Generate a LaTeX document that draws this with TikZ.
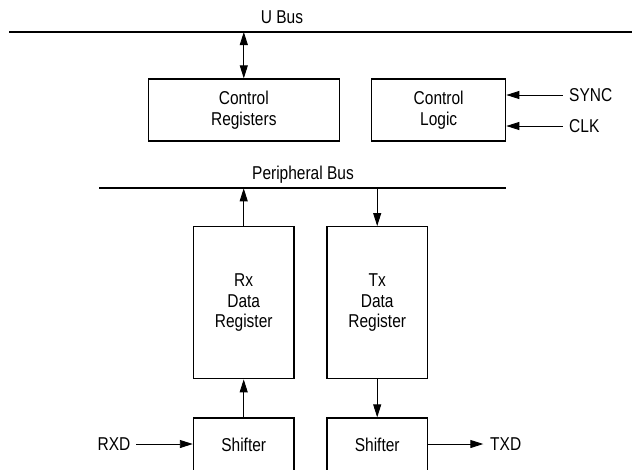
\documentclass[tikz,border=0pt]{standalone}
\usepackage{fontspec}
\usepackage{graphicx}
\setmainfont{Liberation Sans}
\usetikzlibrary{arrows.meta}
\newcommand{\vs}[1]{\scalebox{1}[1.2]{#1}}
\begin{document}
\begin{tikzpicture}[x=1pt,y=-1pt,
  box/.style={draw, line width=1.3pt, inner sep=0pt, align=center, font=\fontsize{15.5}{20.5}\selectfont},
  lbl/.style={inner sep=0pt, font=\fontsize{15.5}{19}\selectfont},
  bus/.style={line width=2pt},
  arr/.style={line width=0.9pt, -{Triangle[length=13pt,width=8pt]}},
  darr/.style={line width=0.9pt, {Triangle[length=13pt,width=8pt]}-{Triangle[length=13pt,width=8pt]}}]
\useasboundingbox (0,0) rectangle (632,469);
\clip (0,0) rectangle (632,469);
% boxes
\node[box, minimum width=191pt, minimum height=62pt] (creg) at (243.8,110) {\vs{Control}\\\vs{Registers}};
\node[box, minimum width=134pt, minimum height=62pt] (clog) at (438.7,110) {\vs{Control}\\\vs{Logic}};
\node[box, minimum width=100.5pt, minimum height=152pt] (rxr) at (243.7,302.7) {\vs{Rx}\\\vs{Data}\\\vs{Register}};
\node[box, minimum width=100.5pt, minimum height=152pt] (txr) at (377.2,302.7) {\vs{Tx}\\\vs{Data}\\\vs{Register}};
\node[box, minimum width=100.5pt, minimum height=54pt] (rxs) at (243.7,445) {\vs{Shifter}};
\node[box, minimum width=100.5pt, minimum height=54pt] (txs) at (377.2,445) {\vs{Shifter}};
% buses
\coordinate (ubL) at (9,32);
\coordinate (ubR) at (640,32);
\draw[bus] (ubL) -- (ubR);
\node[lbl, anchor=base] (ubt) at (282,23) {\vs{U Bus}};
\coordinate (pbL) at (99.3,188.3);
\coordinate (pbR) at (506,188.3);
\draw[bus] (pbL) -- (pbR);
\node[lbl, anchor=base] (pbt) at (303,179.3) {\vs{Peripheral Bus}};
% connectors
\draw[darr] (creg.north |- ubL) -- (creg.north);
\draw[arr] (rxr.north) -- (rxr.north |- pbL);
\draw[arr] (txr.north |- pbL) -- (txr.north);
\draw[arr] (rxs) -- (rxr);
\draw[arr] (txr) -- (txs);
% sync / clk
\node[lbl, anchor=base west] (sync) at (569,101.7) {\vs{SYNC}};
\coordinate (syncS) at (562.7,95);
\draw[arr] (syncS) -- (clog.east |- syncS);
\node[lbl, anchor=base west] (clk) at (569,132.3) {\vs{CLK}};
\coordinate (clkS) at (562.7,126);
\draw[arr] (clkS) -- (clog.east |- clkS);
% rxd / txd
\node[lbl, anchor=base east] (rxd) at (130.5,450.7) {\vs{RXD}};
\coordinate (rxdS) at (136,444);
\draw[arr] (rxdS) -- (rxs.west |- rxdS);
\coordinate (txdE) at (483.3,444);
\draw[arr] (txs.east |- txdE) -- (txdE);
\node[lbl, anchor=base west] (txd) at (490,450.7) {\vs{TXD}};
\end{tikzpicture}
\end{document}
